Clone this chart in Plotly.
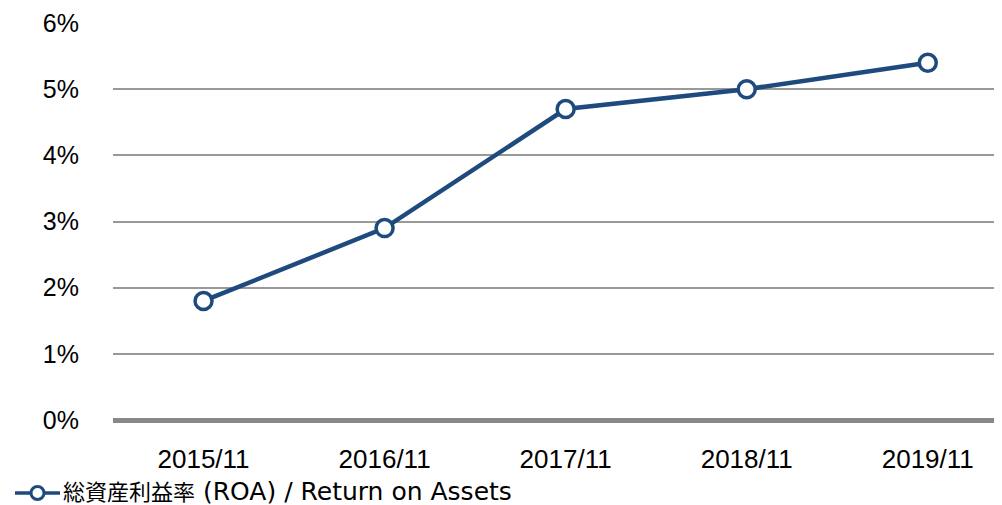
import plotly.graph_objects as go

categories = ["2015/11", "2016/11", "2017/11", "2018/11", "2019/11"]
roa_values = [1.8, 2.9, 4.7, 5.0, 5.4]
y_ticks = [0, 1, 2, 3, 4, 5, 6]
y_tick_labels = ["0%", "1%", "2%", "3%", "4%", "5%", "6%"]
series_name_ja = "総資産利益率"
series_name_en = "(ROA) / Return on Assets"
series_name = series_name_ja + " " + series_name_en

blue = "#1f4a7e"

# page body has an 8px margin; figure is sized to fill the rest of the window
W, H = 994, 497
ML, MR, MT, MB = 105, 0, 15, 85
PW, PH = W - ML - MR, H - MT - MB


def px_x(fx):
    return (fx - ML) / PW


def px_y(fy):
    return (H - MB - fy) / PH


fig = go.Figure()
fig.add_trace(go.Scatter(
    x=list(range(len(categories))), y=roa_values, mode="lines+markers",
    name=series_name, showlegend=False,
    line=dict(color=blue, width=4.5),
    marker=dict(symbol="circle", size=17, color="white", line=dict(color=blue, width=3.5)),
))

# legend sample (line + hollow circle) and label
ly = px_y(485)
fig.add_shape(type="line", xref="paper", yref="paper", x0=px_x(7), x1=px_x(52), y0=ly, y1=ly,
              line=dict(color=blue, width=3.5), layer="above")
fig.add_shape(type="circle", xref="paper", yref="paper", xsizemode="pixel", ysizemode="pixel",
              xanchor=px_x(29.5), yanchor=ly, x0=-6.5, x1=6.5, y0=-6.5, y1=6.5,
              fillcolor="white", line=dict(color=blue, width=3), layer="above")
fig.add_annotation(
    text="<span style='font-size:22px'>" + series_name_ja + "</span> " + series_name_en,
    xref="paper", yref="paper", x=px_x(53), y=px_y(484),
    xanchor="left", yanchor="middle", showarrow=False,
    font=dict(family="DejaVu Sans, Noto Sans CJK JP", size=25, color="#000"))

fig.update_layout(
    width=W, height=H,
    margin=dict(l=ML, r=MR, t=MT, b=MB, autoexpand=False),
    paper_bgcolor="white", plot_bgcolor="white",
    font=dict(family="Liberation Sans, Arial", size=25, color="#000"),
    showlegend=False,
    xaxis=dict(
        range=[-0.5, 4.41], tickmode="array", tickvals=list(range(len(categories))),
        ticktext=categories, showgrid=False, zeroline=False, showline=False,
        ticks="", ticklabelstandoff=21, automargin=False,
        tickfont=dict(size=26),
    ),
    yaxis=dict(
        range=[0, 6], tickmode="array", tickvals=y_ticks, ticktext=y_tick_labels,
        showgrid=True, gridcolor="#999999", gridwidth=1.5,
        zeroline=True, zerolinecolor="#888888", zerolinewidth=4.5,
        showline=False, ticks="", ticklabelstandoff=33, automargin=False,
    ),
)

fig.write_html("out.html")
